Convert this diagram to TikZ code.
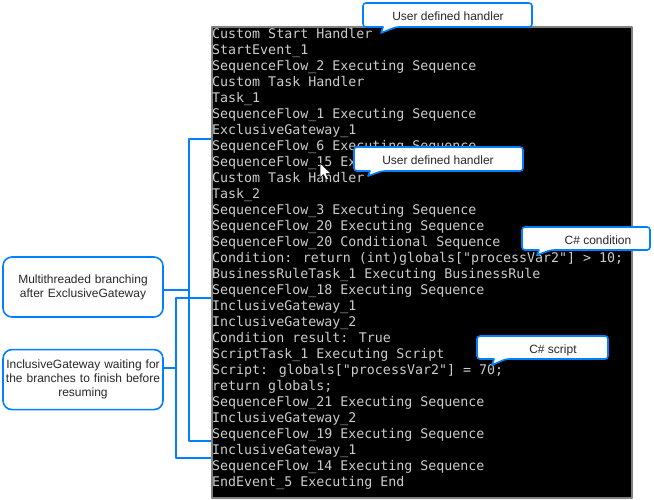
\documentclass[tikz,border=0pt]{standalone}
\usepackage{fontspec}
\setmainfont{Liberation Sans}
\newfontfamily\consolefont{DejaVu Sans Mono}
\usepackage{xcolor}
\usetikzlibrary{positioning}
\definecolor{drawblue}{RGB}{0,127,255}
\definecolor{termgray}{RGB}{204,204,204}
\definecolor{labelgray}{RGB}{40,40,40}

\begin{document}
\begin{tikzpicture}[x=1pt, y=-1pt, line join=round]
	\tikzstyle{console}=[fill=black, draw=gray, line width=1.5pt, inner sep=0pt, anchor=north west]
	\tikzstyle{termline}=[text=termgray, font=\consolefont\fontsize{13.3}{16}\selectfont, inner sep=0pt, anchor=base west]
	\tikzstyle{note}=[draw=drawblue, line width=1.6pt, fill=white, rounded corners=9pt, minimum width=160pt, minimum height=60pt, text width=158pt, align=center, inner sep=0pt, text=labelgray, font=\fontsize{12}{14}\selectfont]
	\tikzstyle{bubble}=[draw=drawblue, line width=1.6pt, fill=white]
	\tikzstyle{bubbletext}=[text=labelgray, font=\fontsize{12}{14}\selectfont, inner sep=0pt]
	\tikzstyle{bracket}=[draw=drawblue, line width=2pt]

	\useasboundingbox (0,0) rectangle (654,499);

	% console window
	\node[console, minimum width=420pt, minimum height=471pt] (console) at (211,26) {};
	\foreach \txt [count=\i from 0] in {
		{Custom Start Handler},
		{StartEvent\_1},
		{SequenceFlow\_2 Executing Sequence},
		{Custom Task Handler},
		{Task\_1},
		{SequenceFlow\_1 Executing Sequence},
		{ExclusiveGateway\_1},
		{SequenceFlow\_6 Executing Sequence},
		{SequenceFlow\_15 Executing Sequence},
		{Custom Task Handler},
		{Task\_2},
		{SequenceFlow\_3 Executing Sequence},
		{SequenceFlow\_20 Executing Sequence},
		{SequenceFlow\_20 Conditional Sequence},
		{Condition: return (int)globals["processVar2"] > 10;},
		{BusinessRuleTask\_1 Executing BusinessRule},
		{SequenceFlow\_18 Executing Sequence},
		{InclusiveGateway\_1},
		{InclusiveGateway\_2},
		{Condition result: True},
		{ScriptTask\_1 Executing Script},
		{Script: globals["processVar2"] = 70;},
		{return globals;},
		{SequenceFlow\_21 Executing Sequence},
		{InclusiveGateway\_2},
		{SequenceFlow\_19 Executing Sequence},
		{InclusiveGateway\_1},
		{SequenceFlow\_14 Executing Sequence},
		{EndEvent\_5 Executing End}}
		\node[termline] (line\i) at (212, 38.5+16*\i) {\txt};

	% mouse pointer
	\draw[fill=white, draw=black, line width=0.5pt] (320,163) -- (320,178) -- (323.5,174.5) -- (326,180) -- (328.5,179) -- (326,173.5) -- (331,173.5) -- cycle;

	% callouts
	\draw[bubble] (383,27) [rounded corners=3pt] -- (363,27) -- (363,3) -- (532,3) -- (532,27) -- (396,27) [sharp corners] -- (381,33) -- cycle;
	\node[bubbletext] (handlerA) at (448,16) {User defined handler};
	\draw[bubble] (370,171) [rounded corners=3pt] -- (354,171) -- (354,147) -- (523,147) -- (523,171) -- (382,171) [sharp corners] -- (368,176) -- cycle;
	\node[bubbletext] (handlerB) at (438,160) {User defined handler};
	\draw[bubble] (539,250) [rounded corners=3pt] -- (522,250) -- (522,227) -- (650,227) -- (650,250) -- (551,250) [sharp corners] -- (537,255) -- cycle;
	\node[bubbletext] (cond) at (598,240) {C\# condition};
	\draw[bubble] (494,359) [rounded corners=3pt] -- (477,359) -- (477,336) -- (608,336) -- (608,359) -- (506,359) [sharp corners] -- (492,365) -- cycle;
	\node[bubbletext] (script) at (553,350) {C\# script};

	% notes on the left
	\node[note] (multi) at (83,287) {Multithreaded branching\\after ExclusiveGateway};
	\node[note, below=31pt of multi] (incl) {InclusiveGateway waiting for\\the branches to finish before\\resuming};

	% brackets
	\coordinate (split) at (189,290);
	\coordinate (splittop) at (211,139);
	\coordinate (splitend) at (211,441);
	\coordinate (join) at (176,368);
	\coordinate (jointop) at (211,298);
	\coordinate (joinend) at (211,458);
	\draw[bracket] (splittop) -| (split) |- (splitend);
	\draw[bracket] (multi.east |- split) -- (split);
	\draw[bracket] (jointop) -| (join) |- (joinend);
	\draw[bracket] (incl.east |- join) -- (join);
\end{tikzpicture}
\end{document}
